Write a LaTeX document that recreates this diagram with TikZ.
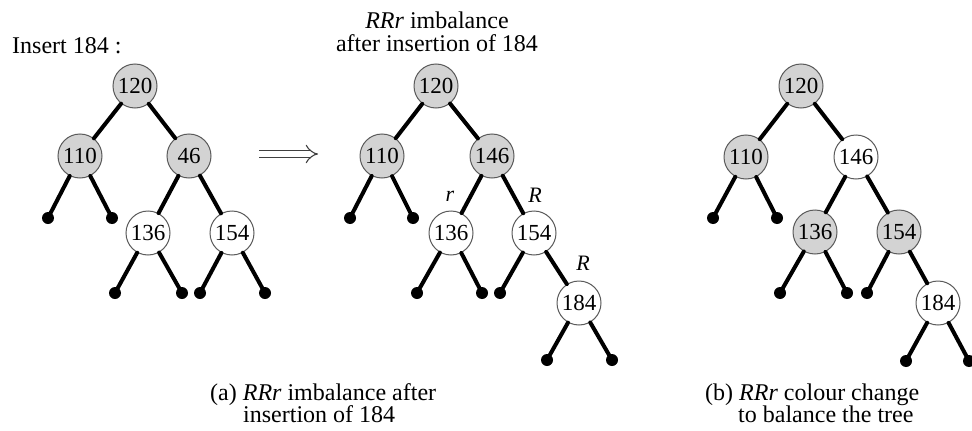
\documentclass[tikz,border=0pt]{standalone}
\usepackage{fontspec}
\setmainfont{Liberation Serif}
\usetikzlibrary{arrows.meta}
\definecolor{nodegray}{HTML}{D3D3D3}
\definecolor{rim}{HTML}{5A5A5A}
\begin{document}
\begin{tikzpicture}[x=1pt,y=-1pt,
  key/.style={circle, draw=rim, line width=1pt, minimum size=44pt, inner sep=0pt,
              font=\fontsize{23}{23}\selectfont},
  blk/.style={key, fill=nodegray},
  wht/.style={key, fill=white},
  nil/.style={circle, fill=black, minimum size=12pt, inner sep=0pt},
  link/.style={line width=4pt, line cap=round},
  txt/.style={font=\fontsize{24}{28}\selectfont, inner sep=0pt},
  side/.style={font=\fontsize{22}{22}\selectfont\itshape, inner sep=0pt},
  ]
\useasboundingbox (0,0) rectangle (972,431);

% ---------- (a) before the rebalancing ----------
\node[txt, anchor=base west] (ins) at (12,53) {Insert 184 :};

\node[blk] (a120) at (135,86) {120};
\node[blk] (a110) at (80,156) {110};
\node[blk] (a46) at (189,156) {46};
\node[wht] (a136) at (148,233) {136};
\node[wht] (a154) at (232,233) {154};
\node[nil] (an1) at (48,218) {};
\node[nil] (an2) at (112,218) {};
\node[nil] (an3) at (115,293) {};
\node[nil] (an4) at (182,293) {};
\node[nil] (an5) at (200,293) {};
\node[nil] (an6) at (265,293) {};

\draw[link] (a120) -- (a110);
\draw[link] (a120) -- (a46);
\draw[link] (a110) -- (an1.center);
\draw[link] (a110) -- (an2.center);
\draw[link] (a46) -- (a136);
\draw[link] (a46) -- (a154);
\draw[link] (a136) -- (an3.center);
\draw[link] (a136) -- (an4.center);
\draw[link] (a154) -- (an5.center);
\draw[link] (a154) -- (an6.center);

% implication arrow
\coordinate (arrS) at (259,154);
\coordinate (arrE) at (318,154);
\draw[line width=1.1pt, draw=black!75, double, double distance=5.5pt, -{Implies}] (arrS) -- (arrE);

% ---------- (a) after inserting 184 ----------
\node[txt, anchor=base] (t1) at (437,28) {\textit{RRr} imbalance};
\node[txt, anchor=base] (t2) at (437,51) {after insertion of 184};

\node[blk] (b120) at (436,86) {120};
\node[blk] (b110) at (382,156) {110};
\node[blk] (b146) at (492,156) {146};
\node[wht] (b136) at (451,233) {136};
\node[wht] (b154) at (534,233) {154};
\node[wht] (b184) at (579,303) {184};
\node[nil] (bn1) at (350,218) {};
\node[nil] (bn2) at (413,218) {};
\node[nil] (bn3) at (417,293) {};
\node[nil] (bn4) at (482,293) {};
\node[nil] (bn5) at (500,293) {};
\node[nil] (bn6) at (547,360) {};
\node[nil] (bn7) at (612,360) {};

\draw[link] (b120) -- (b110);
\draw[link] (b120) -- (b146);
\draw[link] (b110) -- (bn1.center);
\draw[link] (b110) -- (bn2.center);
\draw[link] (b146) -- (b136);
\draw[link] (b146) -- (b154);
\draw[link] (b136) -- (bn3.center);
\draw[link] (b136) -- (bn4.center);
\draw[link] (b154) -- (bn5.center);
\draw[link] (b154) -- (b184);
\draw[link] (b184) -- (bn6.center);
\draw[link] (b184) -- (bn7.center);

\node[side] (lr) at (450,196) {r};
\node[side] (lR1) at (535,195) {R};
\node[side] (lR2) at (583,263) {R};

\node[txt, anchor=base west] (ca1) at (210,400) {(a) \textit{RRr} imbalance after};
\node[txt, anchor=base west] (ca2) at (243,422) {insertion of 184};

% ---------- (b) after the colour change ----------
\node[blk] (c120) at (801,86) {120};
\node[blk] (c110) at (746,157) {110};
\node[wht] (c146) at (856,157) {146};
\node[blk] (c136) at (815,232) {136};
\node[blk] (c154) at (899,232) {154};
\node[wht] (c184) at (938,303) {184};
\node[nil] (cn1) at (713,218) {};
\node[nil] (cn2) at (777,218) {};
\node[nil] (cn3) at (780,293) {};
\node[nil] (cn4) at (847,293) {};
\node[nil] (cn5) at (867,293) {};
\node[nil] (cn6) at (906,361) {};
\node[nil] (cn7) at (969,361) {};

\draw[link] (c120) -- (c110);
\draw[link] (c120) -- (c146);
\draw[link] (c110) -- (cn1.center);
\draw[link] (c110) -- (cn2.center);
\draw[link] (c146) -- (c136);
\draw[link] (c146) -- (c154);
\draw[link] (c136) -- (cn3.center);
\draw[link] (c136) -- (cn4.center);
\draw[link] (c154) -- (cn5.center);
\draw[link] (c154) -- (c184);
\draw[link] (c184) -- (cn6.center);
\draw[link] (c184) -- (cn7.center);

\node[txt, anchor=base west] (cb1) at (705,400) {(b) \textit{RRr} colour change};
\node[txt, anchor=base west] (cb2) at (738,422) {to balance the tree};
\end{tikzpicture}
\end{document}
